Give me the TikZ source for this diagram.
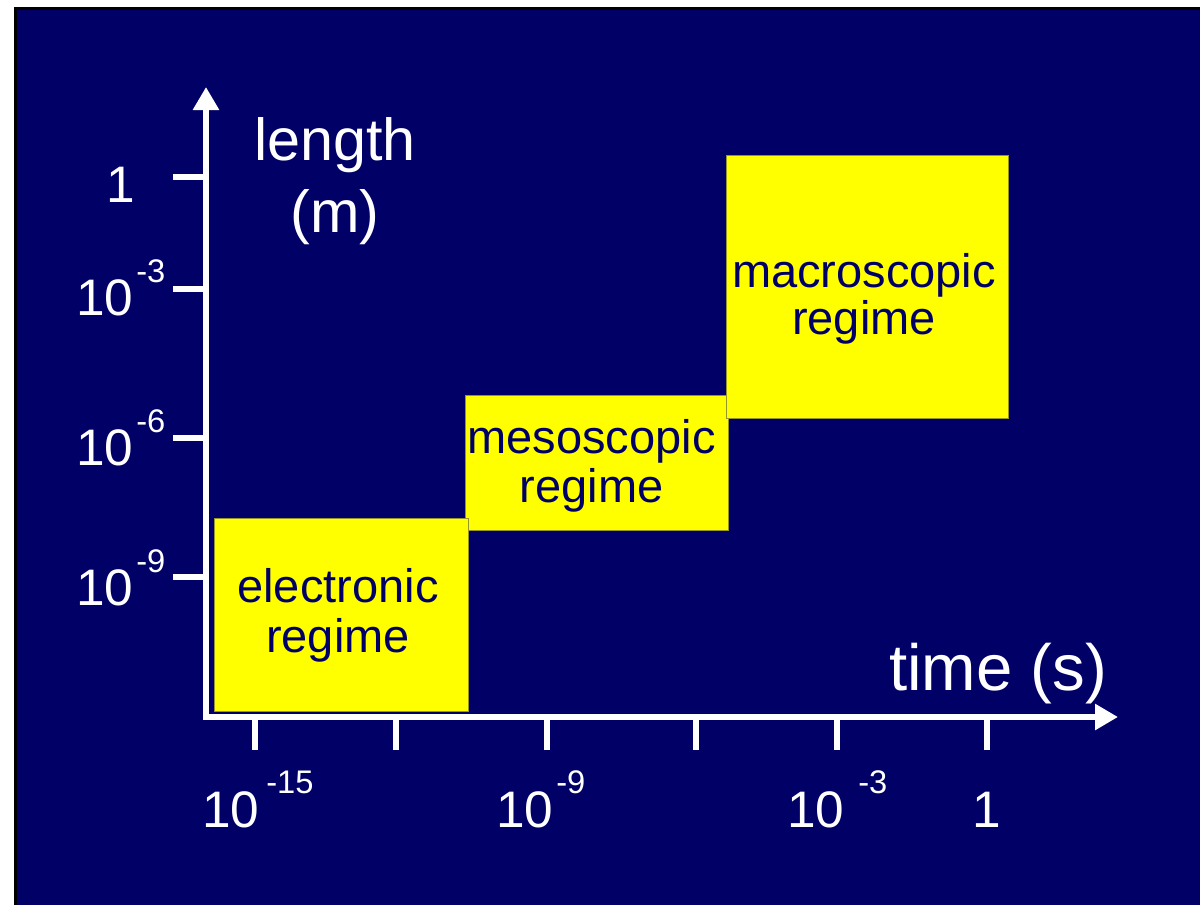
\documentclass[tikz,border=0pt]{standalone}
\usepackage{fontspec}
\setmainfont{Liberation Sans}
\usetikzlibrary{arrows.meta}
\definecolor{navy}{RGB}{0,0,102}
\definecolor{regyellow}{RGB}{255,255,0}
\definecolor{regedge}{RGB}{150,150,40}
\begin{document}
\begin{tikzpicture}[x=0.75pt,y=-0.75pt,
  axisline/.style={white, line width=4.5pt, line join=miter},
  tickline/.style={white, line width=4.5pt},
  ticknum/.style={white, inner sep=0pt, anchor=base west, font=\fontsize{38.5pt}{40pt}\selectfont},
  ticksup/.style={white, inner sep=0pt, anchor=base west, font=\fontsize{24.5pt}{26pt}\selectfont},
  axlabel/.style={white, inner sep=0pt, anchor=base},
  rbox/.style={draw=regedge, line width=0.75pt, fill=regyellow, inner sep=0pt, anchor=north west},
  rtext/.style={text=navy, inner sep=0pt, anchor=base, font=\fontsize{35.25pt}{36pt}\selectfont}
]
\useasboundingbox (0,0) rectangle (1200,904);
\fill[white] (0,0) rectangle (1200,904);
\draw[black, line width=2.5pt, fill=navy] (15.5,8.5) rectangle (1220,925);

% regime boxes
\node[rbox, minimum width=197.25pt, minimum height=101.25pt] (meso) at (465,395) {};
\node[rbox, minimum width=211.5pt, minimum height=197.25pt] (macro) at (726,155) {};
\node[rbox, minimum width=190.5pt, minimum height=144.75pt] (elec) at (214,518) {};

\node[rtext] (elec1) at (338,602) {electronic};
\node[rtext] (elec2) at (338,652) {regime};
\node[rtext] (meso1) at (591.5,453) {mesoscopic};
\node[rtext] (meso2) at (591.5,502) {regime};
\node[rtext] (macro1) at (864,287) {macroscopic};
\node[rtext] (macro2) at (864,334) {regime};

% axes
\coordinate (ytop) at (206,87);
\coordinate (origin) at (206,717);
\coordinate (xend) at (1118,717);
\draw[axisline, {Triangle[length=17.25pt,width=18.75pt]}-{Triangle[length=17.25pt,width=18.75pt]}]
  (ytop) -- (origin) -- (xend);

% ticks
\foreach \y in {177,289,438,577} \draw[tickline] (173,\y) -- (206,\y);
\foreach \x in {255,396,547,696,837,987} \draw[tickline] (\x,717) -- (\x,750);

% y tick labels
\node[ticknum] (y0) at (106,202) {1};
\node[ticknum] (y3) at (76,315) {10};
\node[ticksup] (y3s) at (136,282) {-3};
\node[ticknum] (y6) at (76,465) {10};
\node[ticksup] (y6s) at (136,432) {-6};
\node[ticknum] (y9) at (76,605) {10};
\node[ticksup] (y9s) at (136,572) {-9};

% x tick labels
\node[ticknum] (x15) at (202,827) {10};
\node[ticksup] (x15s) at (266,793) {-15};
\node[ticknum] (x9) at (496,827) {10};
\node[ticksup] (x9s) at (556,793) {-9};
\node[ticknum] (x3) at (787,827) {10};
\node[ticksup] (x3s) at (858,793) {-3};
\node[ticknum] (x0) at (972,827) {1};

% axis labels
\node[axlabel, font=\fontsize{44.5pt}{46pt}\selectfont] (len1) at (335,160) {length};
\node[axlabel, font=\fontsize{44.5pt}{46pt}\selectfont] (len2) at (335,232) {(m)};
\node[white, inner sep=0pt, anchor=base west, font=\fontsize{49pt}{50pt}\selectfont] (time) at (889,690) {time (s)};
\end{tikzpicture}
\end{document}
